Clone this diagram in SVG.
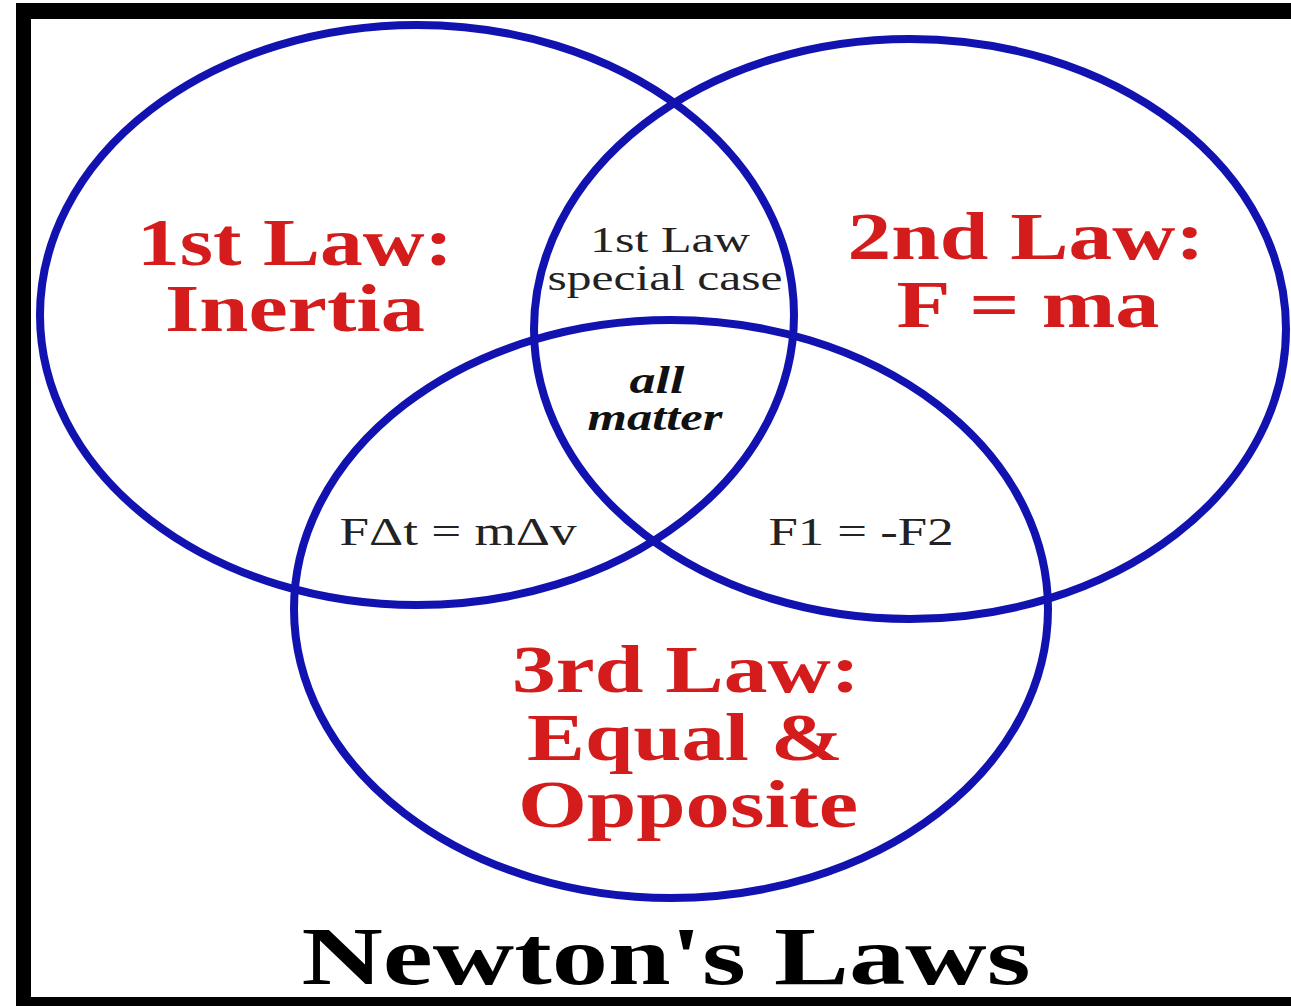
<svg xmlns="http://www.w3.org/2000/svg" width="1291" height="1006" viewBox="0 0 1291 1006">
  <style>
    .ring { fill: none; stroke: #1212b0; stroke-width: 8; }
    .law { font-family: "Liberation Serif", "Times New Roman", serif; font-weight: bold; font-size: 68px; fill: #d41c1c; text-anchor: middle; }
    .small { font-family: "Liberation Serif", "Times New Roman", serif; font-size: 36px; fill: #222; text-anchor: middle; }
    .eq { font-family: "Liberation Serif", "Times New Roman", serif; font-size: 40px; fill: #222; text-anchor: middle; }
    .all { font-family: "Liberation Serif", "Times New Roman", serif; font-weight: bold; font-style: italic; font-size: 38px; fill: #111; text-anchor: middle; }
    .title { font-family: "Liberation Serif", "Times New Roman", serif; font-weight: bold; font-size: 82px; fill: #000; text-anchor: middle; }
  </style>
  <rect x="0" y="0" width="1291" height="1006" fill="#fff"/>
  <g id="frame">
    <rect x="16" y="3" width="1275" height="1003" fill="#000"/>
    <rect x="31" y="19" width="1260" height="978" fill="#fff"/>
  </g>
  <g id="law1">
    <ellipse class="ring" cx="417" cy="315" rx="377" ry="290"/>
    <text class="law" x="295" y="265" textLength="316" lengthAdjust="spacingAndGlyphs">1st Law:</text>
    <text class="law" x="295" y="331" textLength="260" lengthAdjust="spacingAndGlyphs">Inertia</text>
  </g>
  <g id="law2">
    <ellipse class="ring" cx="910" cy="329" rx="376" ry="290"/>
    <text class="law" x="1026" y="259" textLength="357" lengthAdjust="spacingAndGlyphs">2nd Law:</text>
    <text class="law" x="1028" y="327" textLength="263" lengthAdjust="spacingAndGlyphs">F = ma</text>
  </g>
  <g id="law3">
    <ellipse class="ring" cx="671" cy="609" rx="377" ry="289"/>
    <text class="law" x="686" y="692" textLength="348" lengthAdjust="spacingAndGlyphs">3rd Law:</text>
    <text class="law" x="685" y="760" textLength="316" lengthAdjust="spacingAndGlyphs">Equal &amp;</text>
    <text class="law" x="688" y="827" textLength="340" lengthAdjust="spacingAndGlyphs">Opposite</text>
  </g>
  <g id="overlap12">
    <text class="small" x="670" y="252" textLength="160" lengthAdjust="spacingAndGlyphs">1st Law</text>
    <text class="small" x="665" y="290" textLength="235" lengthAdjust="spacingAndGlyphs">special case</text>
  </g>
  <g id="overlap123">
    <text class="all" x="657" y="393" textLength="55" lengthAdjust="spacingAndGlyphs">all</text>
    <text class="all" x="655" y="430" textLength="135" lengthAdjust="spacingAndGlyphs">matter</text>
  </g>
  <g id="overlap13">
    <text class="eq" x="458" y="545" textLength="237" lengthAdjust="spacingAndGlyphs">FΔt = mΔv</text>
  </g>
  <g id="overlap23">
    <text class="eq" x="861" y="545" textLength="185" lengthAdjust="spacingAndGlyphs">F1 = -F2</text>
  </g>
  <g id="title">
    <text class="title" x="666" y="984" textLength="729" lengthAdjust="spacingAndGlyphs">Newton's Laws</text>
  </g>
</svg>
